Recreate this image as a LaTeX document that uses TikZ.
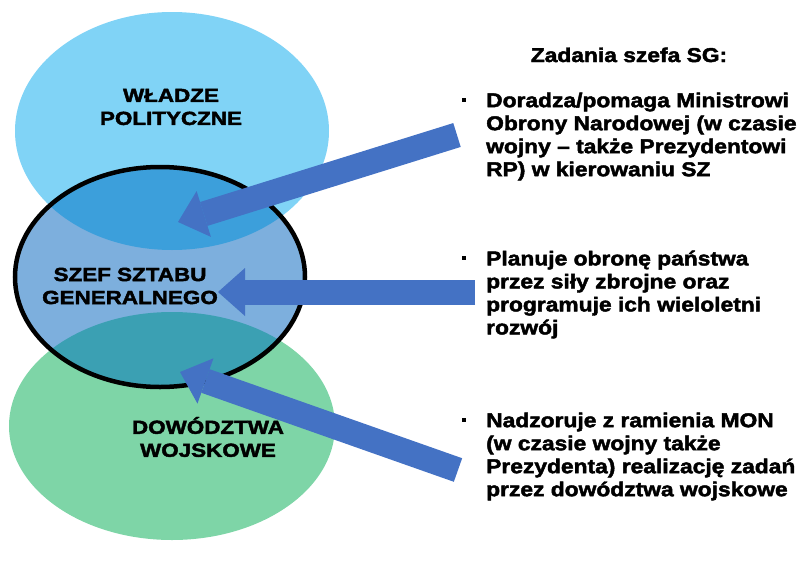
\documentclass[tikz,border=0pt]{standalone}
\usepackage{fontspec}
\setmainfont{Liberation Sans}
\newfontfamily\heavyfont{Liberation Sans Bold}[FakeBold=2.2, FakeStretch=1.14]
\newfontfamily\widefont{Liberation Sans Bold}[FakeBold=2.2, FakeStretch=1.18]
\usetikzlibrary{arrows.meta, positioning}
\definecolor{wladzeblue}{HTML}{80D3F6}
\definecolor{wladzedeep}{HTML}{3C9FDB}
\definecolor{szefblue}{HTML}{7DAFDD}
\definecolor{dowodgreen}{HTML}{7ED5A7}
\definecolor{dowodteal}{HTML}{3BA0B3}
\definecolor{arrowblue}{HTML}{4472C4}
\tikzset{x=1pt, y=-1pt, bigarrow/.style={line width=25pt, draw=arrowblue, -{Triangle[length=27pt, width=48pt, line width=0pt]}}, ovaltext/.style={font=\widefont\fontsize{19}{23}\selectfont, align=center, inner sep=0pt}, tasktext/.style={font=\heavyfont\fontsize{20}{23}\selectfont, align=left, inner sep=0pt, anchor=north west}}
\tikzstyle{bulletsq}=[rectangle, fill=black, inner sep=0pt, minimum size=4.5pt]

\begin{document}
\begin{tikzpicture}
\useasboundingbox (0,0) rectangle (798,581);
\coordinate (wladzeC) at (172,131);
\coordinate (szefC) at (160,277);
\coordinate (dowodC) at (172,426);
\fill[wladzeblue] (wladzeC) ellipse [x radius=157pt, y radius=119pt];
\fill[dowodgreen] (dowodC) ellipse [x radius=163pt, y radius=114pt];
\fill[szefblue] (szefC) ellipse [x radius=145pt, y radius=110pt];
\begin{scope}
\clip (szefC) ellipse [x radius=145pt, y radius=110pt];
\fill[wladzedeep] (wladzeC) ellipse [x radius=157pt, y radius=119pt];
\fill[dowodteal] (dowodC) ellipse [x radius=163pt, y radius=114pt];
\end{scope}
\draw[line width=4.5pt] (szefC) ellipse [x radius=145pt, y radius=110pt];
\node[ovaltext] (wladze) at (171,107) {WŁADZE\\POLITYCZNE};
\node[ovaltext] (szef) at (130,286) {SZEF SZTABU\\GENERALNEGO};
\node[ovaltext] (dowod) at (208,437) {DOWÓDZTWA\\WOJSKOWE};
\node[font=\heavyfont\fontsize{20}{23}\selectfont, anchor=base, inner sep=0pt] (zadania) at (629,62) {Zadania szefa SG:};
\node[tasktext] (task1) at (486,92.5) {Doradza/pomaga Ministrowi\\Obrony Narodowej (w czasie\\wojny – także Prezydentowi\\RP) w kierowaniu SZ};
\node[tasktext] (task2) at (486,250.5) {Planuje obronę państwa\\przez siły zbrojne oraz\\programuje ich wieloletni\\rozwój};
\node[tasktext] (task3) at (486,412.5) {Nadzoruje z ramienia MON\\(w czasie wojny także\\Prezydenta) realizację zadań\\przez dowództwa wojskowe};
\node[bulletsq] (bullet1) at (464,100) {};
\node[bulletsq] (bullet2) at (464,258) {};
\node[bulletsq] (bullet3) at (464,420) {};
\coordinate (tail1) at (457,135);
\coordinate (tip1) at (178,222);
\coordinate (tail2) at (475,292);
\coordinate (tip2) at (218,292);
\coordinate (tail3) at (458,470);
\coordinate (tip3) at (180,372);
\draw[bigarrow] (tail1) -- (tip1);
\draw[bigarrow] (tail2) -- (tip2);
\draw[bigarrow] (tail3) -- (tip3);
\end{tikzpicture}
\end{document}
